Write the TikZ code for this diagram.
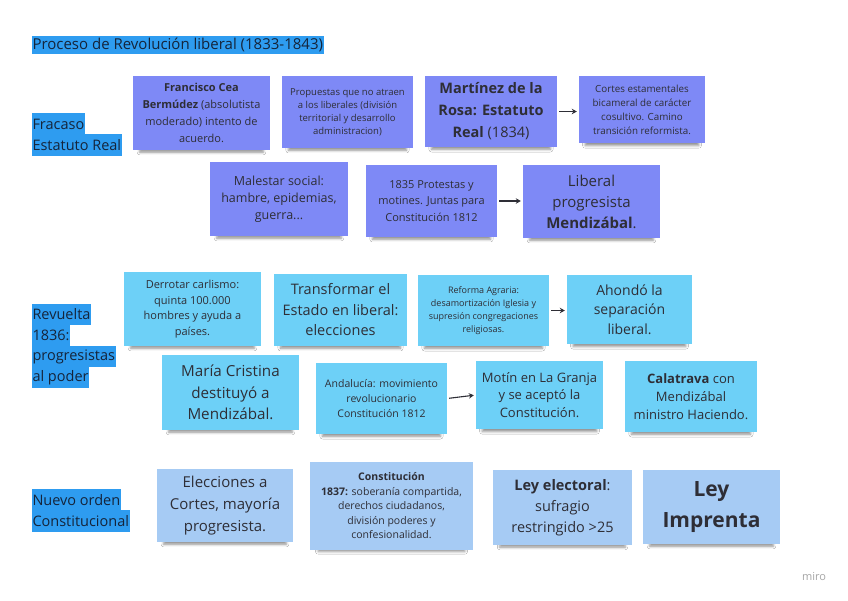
\documentclass[tikz,border=0pt]{standalone}
\usepackage{fontspec}
\setmainfont{Open Sans}
\usetikzlibrary{shadows.blur,arrows.meta}
\definecolor{purp}{HTML}{7E89F6}
\definecolor{cyanb}{HTML}{6DD0F7}
\definecolor{lblue}{HTML}{A6CBF4}
\definecolor{hl}{HTML}{2E9CF0}
\definecolor{txt}{HTML}{2E2E36}
\definecolor{labtxt}{HTML}{15243A}
\newcommand\fsz[2]{\fontsize{#1}{#2}\selectfont}
\tikzset{
 note/.style={fill=#1, draw=none, align=center, text=txt, inner sep=0pt,
   blur shadow={shadow xshift=0pt, shadow yshift=-6.5pt, shadow blur radius=3pt, shadow opacity=45, shadow scale=0.9}},
 bw/.style={minimum width=#1pt},
 bh/.style={minimum height=#1pt},
 lab/.style={anchor=west, fill=hl, text=labtxt, inner xsep=0.8pt, inner ysep=0pt, minimum height=21.5pt, font=\fsz{14.5}{17}},
 arr/.style={-{Stealth[length=5pt,width=5.5pt]}, line width=1.1pt, draw=txt, shorten <=2pt, shorten >=2pt},
}
\begin{document}
\begin{tikzpicture}[x=1pt,y=-1pt]
\fill[white] (0,0) rectangle (848,600);
\useasboundingbox (0,0) rectangle (848,600);
% title and labels
\node[lab, minimum height=18pt, font=\fsz{15}{17}] (title) at (31.5,45) {Proceso de Revolución liberal (1833-1843)};
\node[lab] (l1a) at (31.5,124) {Fracaso};
\node[lab] (l1b) at (31.5,145) {Estatuto Real};
\node[lab] (l2a) at (31.5,314.5) {Revuelta};
\node[lab] (l2b) at (31.5,335.5) {1836:};
\node[lab] (l2c) at (31.5,356.5) {progresistas};
\node[lab] (l2d) at (31.5,377.5) {al poder};
\node[lab] (l3a) at (31.5,500) {Nuevo orden};
\node[lab] (l3b) at (31.5,521) {Constitucional};
% row 1
\node[note=purp, bw=137, bh=74, font=\fsz{11}{17}] (A) at (201.5,113) {\textbf{Francisco Cea}\\ \textbf{Bermúdez} (absolutista\\ moderado) intento de\\ acuerdo.};
\node[note=purp, bw=131, bh=72, font=\fsz{9.5}{13}] (B) at (347.5,112) {Propuestas que no atraen\\ a los liberales (división\\ territorial y desarrollo\\ administracion)};
\node[note=purp, bw=132, bh=71, font=\fsz{14.5}{22}] (C) at (491,111.5) {\textbf{Martínez de la}\\ \textbf{Rosa: Estatuto}\\ \textbf{Real} (1834)};
\node[note=purp, bw=126, bh=67, font=\fsz{9.8}{14}] (D) at (642,109.5) {Cortes estamentales\\ bicameral de carácter\\ cosultivo. Camino\\ transición reformista.};
% row 2
\node[note=purp, bw=138, bh=74, font=\fsz{12.5}{17}] (E) at (279,199) {Malestar social:\\ hambre, epidemias,\\ guerra...};
\node[note=purp, bw=131, bh=72, font=\fsz{11}{16.5}] (F) at (431.5,201) {1835 Protestas y\\ motines. Juntas para\\ Constitución 1812};
\node[note=purp, bw=137, bh=73, font=\fsz{15}{21}] (G) at (591.5,201.5) {Liberal\\ progresista\\ \textbf{Mendizábal}.};
% row 3
\node[note=cyanb, bw=137, bh=74, font=\fsz{11}{15.5}] (H) at (192.5,309) {Derrotar carlismo:\\ quinta 100.000\\ hombres y ayuda a\\ países.};
\node[note=cyanb, bw=133, bh=72, font=\fsz{14.5}{20.5}] (I) at (340.5,310) {Transformar el\\ Estado en liberal:\\ elecciones};
\node[note=cyanb, bw=131, bh=71, font=\fsz{9}{13}] (J) at (483.5,310.5) {Reforma Agraria:\\ desamortización Iglesia y\\ supresión congregaciones\\ religiosas.};
\node[note=cyanb, bw=125, bh=69, font=\fsz{14}{19.5}] (K) at (629.5,309.5) {Ahondó la\\ separación\\ liberal.};
% row 4
\node[note=cyanb, bw=137, bh=75, font=\fsz{15.2}{21.5}] (L) at (230.5,392.5) {María Cristina\\ destituyó a\\ Mendizábal.};
\node[note=cyanb, bw=131, bh=71, font=\fsz{10.5}{15}] (M) at (381.5,398.5) {Andalucía: movimiento\\ revolucionario\\ Constitución 1812};
\node[note=cyanb, bw=127, bh=68, font=\fsz{13}{17.5}] (N) at (539.5,395) {Motín en La Granja\\ y se aceptó la\\ Constitución.};
\node[note=cyanb, bw=132, bh=71, font=\fsz{13}{18}] (O) at (691,396.5) {\textbf{Calatrava} con\\ Mendizábal\\ ministro Haciendo.};
% row 5
\node[note=lblue, bw=136, bh=73, font=\fsz{15}{22}] (P) at (225,505.5) {Elecciones a\\ Cortes, mayoría\\ progresista.};
\node[note=lblue, bw=163, bh=88, font=\fsz{10.5}{14.5}] (Q) at (391.5,506) {\textbf{Constitución}\\ \textbf{1837:} soberanía compartida,\\ derechos ciudadanos,\\ división poderes y\\ confesionalidad.};
\node[note=lblue, bw=139, bh=75, font=\fsz{14.5}{21}] (R) at (562.5,507.5) {\textbf{Ley electoral}:\\ sufragio\\ restringido >25};
\node[note=lblue, bw=137, bh=74, font=\fsz{21}{31}] (S) at (711.5,507) {\textbf{Ley}\\ \textbf{Imprenta}};
% arrows
\draw[arr] (C.east) -- (C.east -| D.west);
\draw[arr] (F.east) -- (F.east -| G.west);
\draw[arr] (J.east) -- (J.east -| K.west);
\draw[arr] (M.east) -- (N.west);
% watermark
\node[text=black!35, font=\fsz{11}{13}] (miro) at (814,577) {miro};
\end{tikzpicture}
\end{document}
